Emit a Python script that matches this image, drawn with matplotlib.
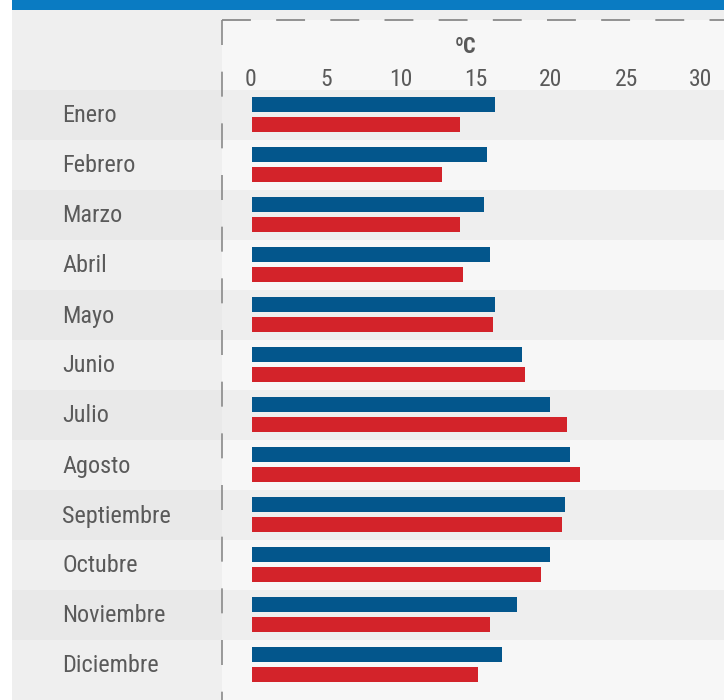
import matplotlib
matplotlib.use("Agg")
import matplotlib.pyplot as plt
from matplotlib.patches import Rectangle
from matplotlib.lines import Line2D
from matplotlib import font_manager

# Data
months = ["Enero", "Febrero", "Marzo", "Abril", "Mayo", "Junio", "Julio",
          "Agosto", "Septiembre", "Octubre", "Noviembre", "Diciembre"]
serie_azul = [16.2, 15.7, 15.5, 15.9, 16.2, 18.0, 19.9, 21.2, 20.9, 19.9, 17.7, 16.7]
serie_roja = [13.9, 12.7, 13.9, 14.1, 16.1, 18.2, 21.0, 21.9, 20.7, 19.3, 15.9, 15.1]
ticks = [0, 5, 10, 15, 20, 25, 30]
unit = "ºC"

# pick a narrow font if there is one
names = {f.name for f in font_manager.fontManager.ttflist}
narrow = None
for n in ["Liberation Sans Narrow", "DejaVu Sans Condensed", "Roboto Condensed",
          "Open Sans Condensed"]:
    if n in names:
        narrow = n
        break
fam = [narrow, 'DejaVu Sans'] if narrow else ['DejaVu Sans']
plt.rcParams['font.family'] = fam
stretch = "normal" if narrow else "condensed"

W, H = 724, 700
fig = plt.figure(figsize=(W / 100, H / 100), dpi=100)
fig.patch.set_facecolor("white")

# background axes in pixel coordinates
bg = fig.add_axes([0, 0, 1, 1])
bg.set_xlim(0, W)
bg.set_ylim(H, 0)
bg.axis("off")

bg.add_patch(Rectangle((12, 0), W - 12, 10, color="#0a7bc2", lw=0))
bg.add_patch(Rectangle((12, 10), W - 12, H - 10, color="#efefef", lw=0))
bg.add_patch(Rectangle((222, 20), W - 222, H - 20, color="#f7f7f7", lw=0))
for i in range(0, len(months), 2):
    y0 = 90 + 50 * i
    bg.add_patch(Rectangle((12, y0), 210, 50, color="#e9e9e9", lw=0))
    bg.add_patch(Rectangle((222, y0), W - 222, 50, color="#eeeeee", lw=0))

bg.add_line(Line2D([222, W], [20, 20], color="#8a8a8a", lw=1.3,
                   dashes=(16, 14)))
bg.add_line(Line2D([222, 222], [20, H], color="#8a8a8a", lw=1.2,
                   dashes=(15, 16)))

for i, m in enumerate(months):
    bg.text(62, 116 + 50 * i, m, fontsize=17.5, color="#5a5a5a",
            va="center", ha="left", fontstretch=stretch)

# bar axes: 0 -> x=251px, 30 -> x=701px
ax = fig.add_axes([222 / W, 0, (W - 222) / W, (H - 90) / H])
ax.set_xlim((222 - 251) / 15, (W - 251) / 15)
ax.set_ylim((H - 115) / 50, -0.5)
ax.axis("off")

pos = list(range(len(months)))
ax.barh([p - 0.22 for p in pos], serie_azul, height=0.3, left=0.05,
        color="#03568c")
ax.barh([p + 0.19 for p in pos], serie_roja, height=0.3, left=0.05,
        color="#d3232a")

for t in ticks:
    ax.text(t, -0.7, str(t), fontsize=17, color="#5a5a5a",
            ha="center", va="center", fontstretch=stretch)
ax.text(14.3, -1.36, unit, fontsize=16, color="#5a5a5a", fontweight="bold",
        ha="center", va="center", fontstretch=stretch)

fig.savefig("out.png", dpi=100)
